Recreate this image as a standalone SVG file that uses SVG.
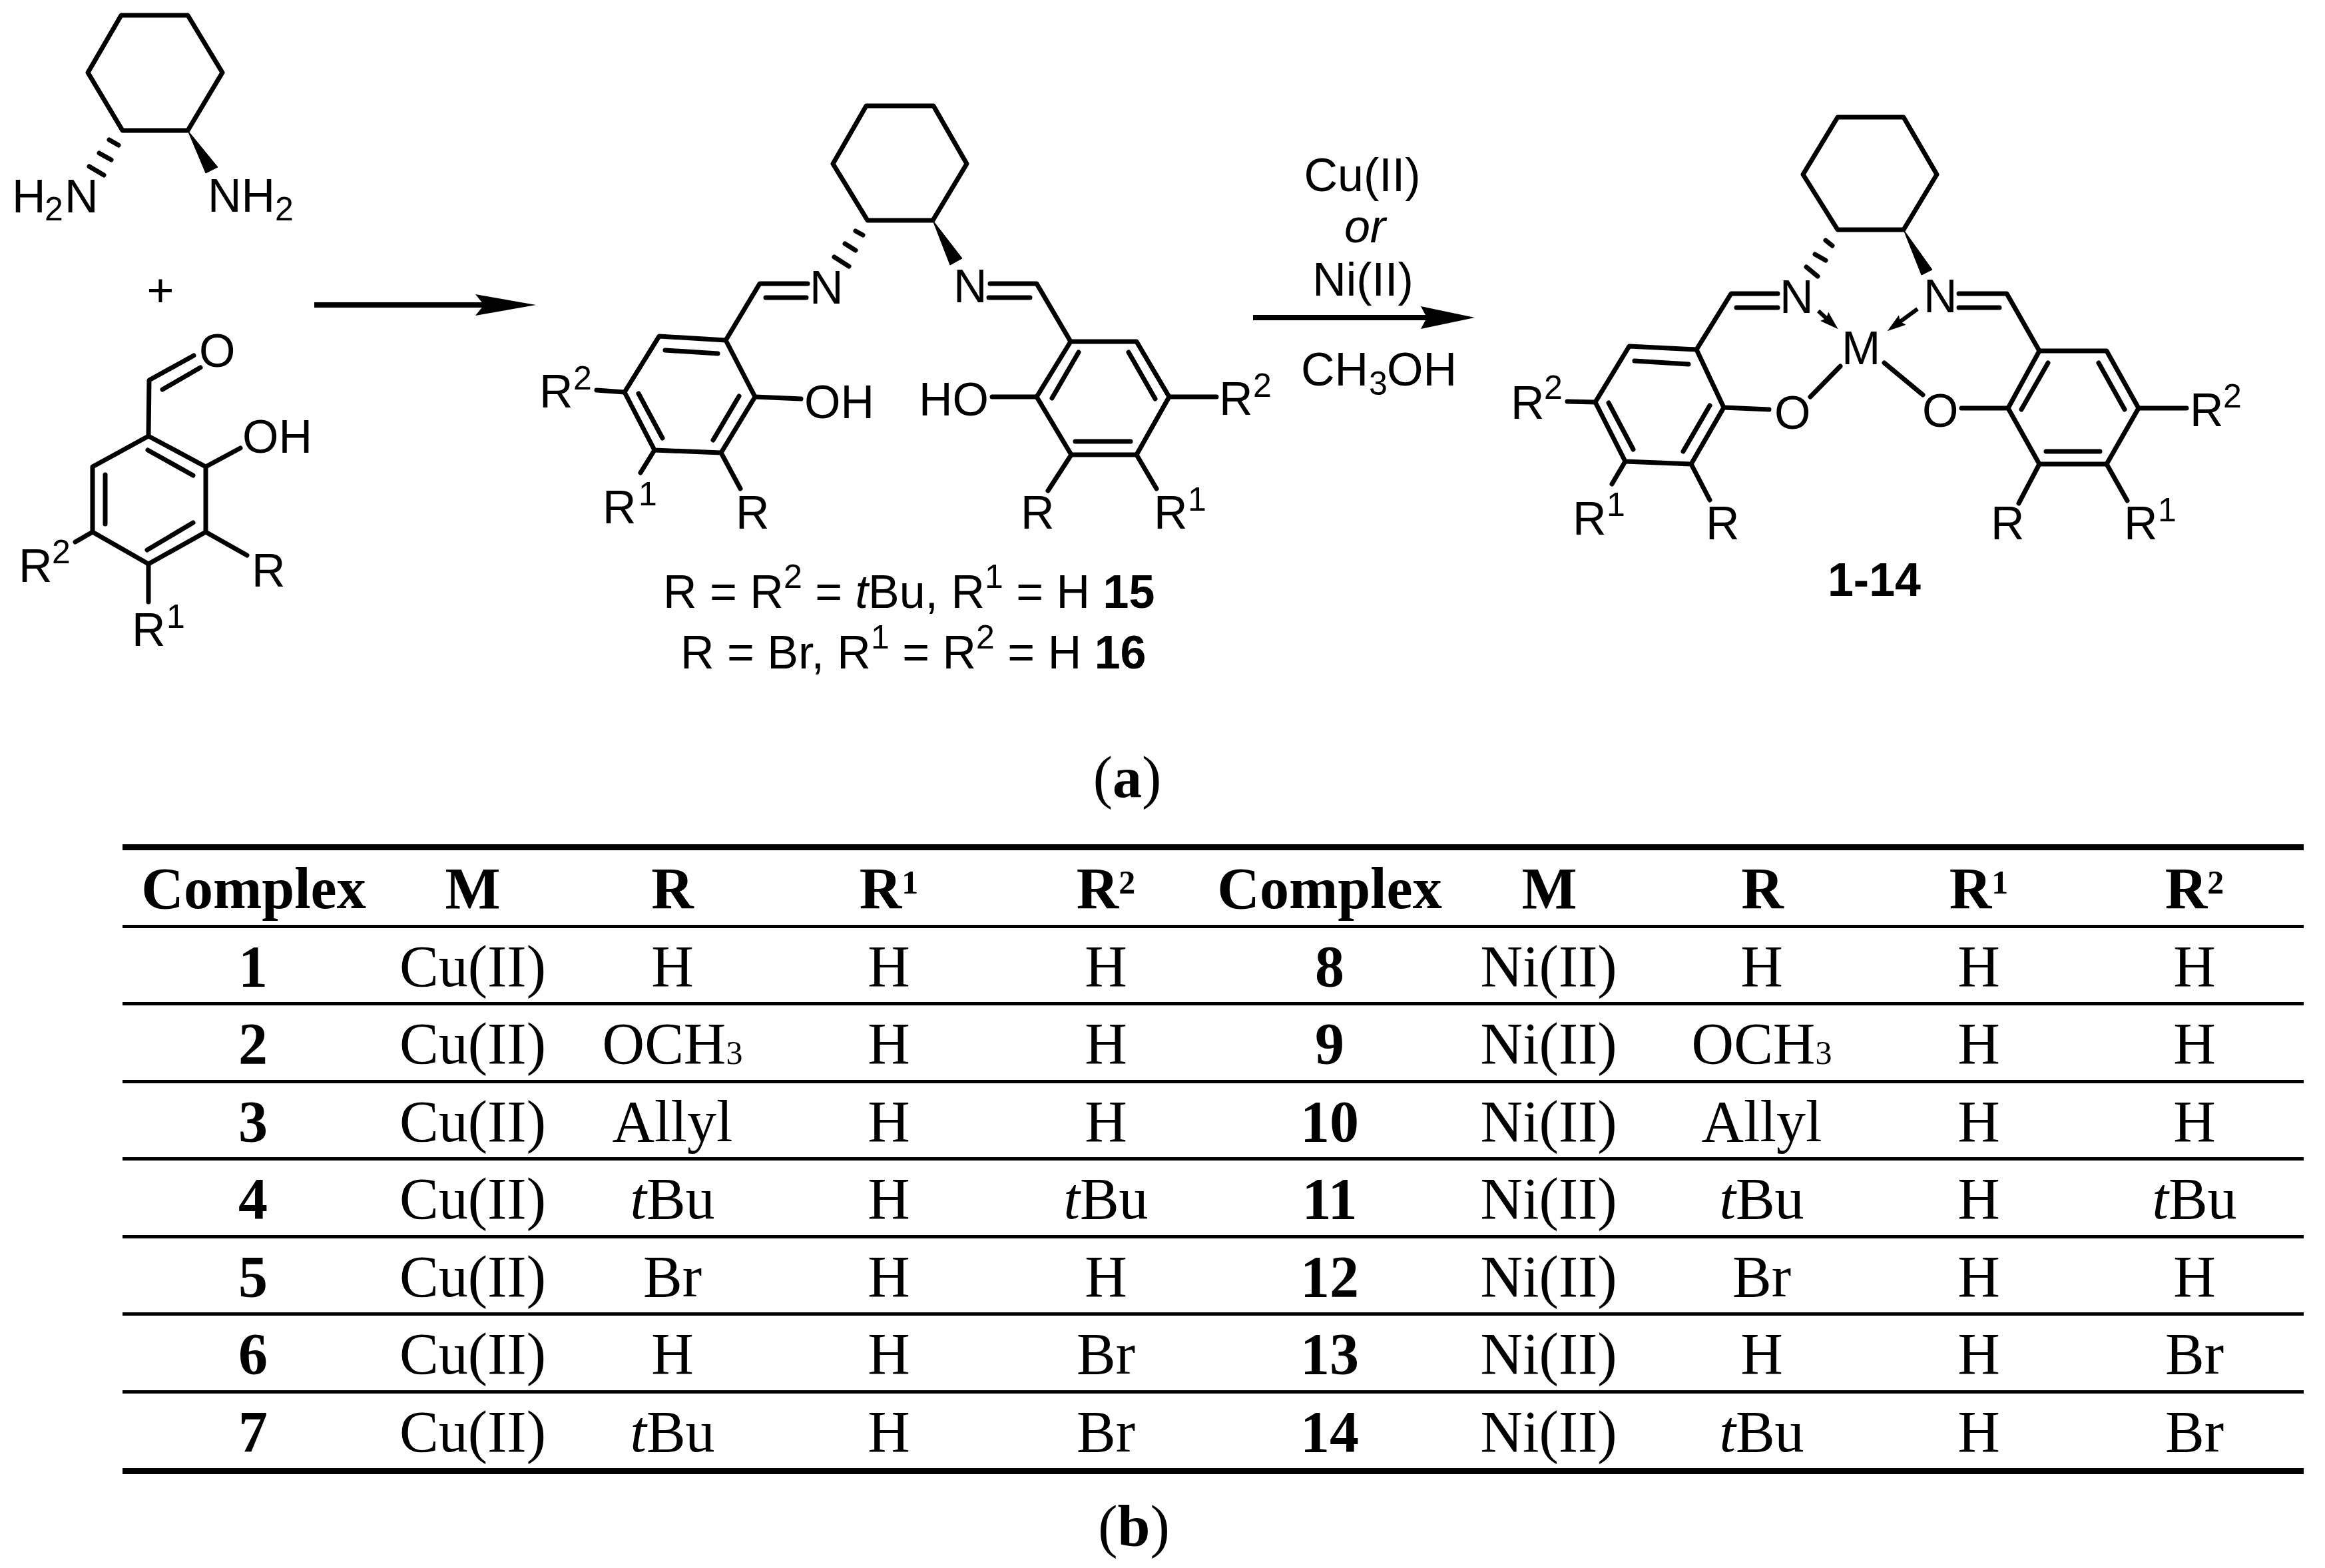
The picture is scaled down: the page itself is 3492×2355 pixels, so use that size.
<svg xmlns="http://www.w3.org/2000/svg" width="3492" height="2355" viewBox="0 0 3492 2355">
<style>
.bg{fill:#fff}
.bond{fill:none;stroke:#000;stroke-width:7;stroke-linecap:round;stroke-linejoin:round}
.wedge{fill:#000;stroke:#000;stroke-width:1}
.arr{fill:none;stroke:#000;stroke-width:8}
.dat{fill:none;stroke:#000;stroke-width:6}
text{fill:#000}
.t{font-family:"Liberation Sans",Arial,sans-serif;font-size:70px}
.s{font-size:50px}
.m{text-anchor:middle}
.bo{font-weight:700}
.i{font-style:italic}
.c{font-family:"Liberation Serif","Times New Roman",serif;font-size:88px;text-anchor:middle}
.h{font-family:"Liberation Serif","Times New Roman",serif;font-size:88px;font-weight:700;text-anchor:middle}
.n{font-family:"Liberation Serif","Times New Roman",serif;font-size:88px;font-weight:700;text-anchor:middle}
.sp{font-size:50px}
.sb{font-size:50px}
.rule{fill:#000}
</style>
<defs>
<marker id="head-a" markerUnits="userSpaceOnUse" viewBox="0 -16 91 32" refX="13" refY="0" markerWidth="91" markerHeight="32" orient="auto"><path d="M0,-16L91,0L0,16L13,0Z" fill="#000"/></marker>
<marker id="head-b" markerUnits="userSpaceOnUse" viewBox="0 -17 81 34" refX="9" refY="0" markerWidth="81" markerHeight="34" orient="auto"><path d="M0,-17L81,0L0,17L9,0Z" fill="#000"/></marker>
<marker id="head-d" markerUnits="userSpaceOnUse" viewBox="0 -9 28 18" refX="4" refY="0" markerWidth="28" markerHeight="18" orient="auto"><path d="M0,-9L28,0L0,9L4,0Z" fill="#000"/></marker>
</defs>
<rect class="bg" width="3492" height="2355"/>

<g id="diamine">
<polygon class="bond" points="182,23 282,23 334,109 282,196 184,196 132,109"/>
<path class="bond" d="M164,210L178,218M149,230L167,240M134,250L156,263"/>
<polygon class="wedge" points="282,196 309,260 327,251"/>
<text class="t" x="18" y="319">H<tspan class="s" x="67" y="331">2</tspan><tspan x="97" y="319">N</tspan></text>
<text class="t" x="312" y="318">NH<tspan class="s" x="413" y="331">2</tspan></text>
</g>

<g id="plus"><text class="t m" x="241" y="460">+</text></g>

<g id="aldehyde">
<polygon class="bond" points="223,655 309,701 309,799 223,847 139,799 139,701"/>
<path class="bond" d="M222,676L290,714M290,785L221,826M158,713L158,787M223,655L224,571L291,534M244,585L301,552M309,701L361,673M309,799L371,834M139,799L113,814M223,847L223,904"/>
<text class="t" x="299" y="551">O</text>
<text class="t" x="364" y="680">OH</text>
<text class="t" x="378" y="881">R</text>
<text class="t" x="28" y="874">R<tspan class="s" x="78" y="846">2</tspan></text>
<text class="t" x="198" y="970">R<tspan class="s" x="250" y="943">1</tspan></text>
</g>

<g id="ligand">
<polygon class="bond" points="1301,159 1402,159 1452,246 1401,331 1303,331 1251,246"/>
<path class="bond" d="M1285,347L1296,353M1269,366L1285,376M1253,386L1275,400"/>
<polygon class="wedge" points="1401,331 1427,398 1445,388"/>
<polygon class="bond" points="1090,511 990,505 938,589 983,676 1083,680 1134,596"/>
<path class="bond" d="M999,526L1078,531M959,591L995,658M1110,595L1071,661M1090,511L1141,426L1213,426M1150,447L1211,447M1134,596L1203,599M938,589L896,586M983,676L962,710M1083,680L1112,734"/>
<polygon class="bond" points="1608,513 1707,513 1756,596 1707,683 1609,683 1557,596"/>
<path class="bond" d="M1620,529L1580,598M1695,529L1735,599M1615,663L1698,663M1608,513L1557,426L1487,426M1485,447L1547,447M1557,596L1490,596M1756,596L1827,596M1609,683L1574,737M1707,683L1737,734"/>
<text class="t" x="1216" y="456">N</text>
<text class="t" x="1432" y="454">N</text>
<text class="t" x="1208" y="628">OH</text>
<text class="t" x="1380" y="624">HO</text>
<text class="t" x="810" y="612">R<tspan class="s" x="861" y="585">2</tspan></text>
<text class="t" x="905" y="786">R<tspan class="s" x="959" y="759">1</tspan></text>
<text class="t" x="1105" y="794">R</text>
<text class="t" x="1533" y="794">R</text>
<text class="t" x="1733" y="794">R<tspan class="s" x="1784" y="767">1</tspan></text>
<text class="t" x="1831" y="623">R<tspan class="s" x="1882" y="596">2</tspan></text>
<text class="t" x="996" y="913">R = R<tspan class="s" dy="-30">2</tspan><tspan dy="30"> = </tspan><tspan class="i">t</tspan>Bu, R<tspan class="s" dy="-30">1</tspan><tspan dy="30"> = H </tspan><tspan class="bo">15</tspan></text>
<text class="t" x="1022" y="1004">R = Br, R<tspan class="s" dy="-30">1</tspan><tspan dy="30"> = R</tspan><tspan class="s" dy="-30">2</tspan><tspan dy="30"> = H </tspan><tspan class="bo">16</tspan></text>
</g>

<g id="reagents">
<text class="t m" x="2046" y="287">Cu(II)</text>
<text class="t m i" x="2050" y="364">or</text>
<text class="t m" x="2047" y="444">Ni(II)</text>
<text class="t" x="1954" y="579">CH<tspan class="s" x="2056" y="593">3</tspan><tspan x="2083" y="579">OH</tspan></text>
</g>

<g id="complex">
<polygon class="bond" points="2760,176 2859,176 2909,262 2859,345 2760,345 2708,262"/>
<path class="bond" d="M2742,361L2752,369M2726,382L2742,391M2713,401L2730,415"/>
<polygon class="wedge" points="2859,345 2886,413 2902,405"/>
<polygon class="bond" points="2548,525 2447,520 2396,604 2441,693 2540,697 2589,612"/>
<path class="bond" d="M2455,542L2536,547M2416,605L2453,675M2568,609L2528,678M2548,525L2600,441L2670,441M2608,462L2670,462M2589,612L2657,615M2719,596L2764,550M2396,604L2354,603M2441,693L2421,727M2540,697L2568,751"/>
<polygon class="bond" points="3063,527 3164,527 3212,613 3164,697 3063,697 3016,613"/>
<path class="bond" d="M3076,545L3036,615M3152,545L3191,615M3073,678L3154,678M3063,527L3014,441L2942,441M2942,462L3003,462M2830,545L2888,593M3016,613L2946,613M3212,613L3284,613M3063,697L3032,756M3164,697L3195,752"/>
<text class="t" x="2673" y="470">N</text>
<text class="t" x="2889" y="469">N</text>
<text class="t" x="2766" y="547">M</text>
<text class="t" x="2665" y="644">O</text>
<text class="t" x="2887" y="641">O</text>
<text class="t" x="2269" y="629">R<tspan class="s" x="2319" y="599">2</tspan></text>
<text class="t" x="2362" y="803">R<tspan class="s" x="2413" y="775">1</tspan></text>
<text class="t" x="2562" y="810">R</text>
<text class="t" x="2990" y="810">R</text>
<text class="t" x="3190" y="810">R<tspan class="s" x="3241" y="783">1</tspan></text>
<text class="t" x="3289" y="640">R<tspan class="s" x="3339" y="612">2</tspan></text>
<text class="t m bo" x="2815" y="895">1-14</text>
</g>

<g id="connectors">
<line class="arr" x1="472" y1="458" x2="727" y2="458" marker-end="url(#head-a)"/>
<line class="arr" x1="1882" y1="477" x2="2143" y2="477" marker-end="url(#head-b)"/>
<line class="dat" x1="2731" y1="467" x2="2743" y2="478" marker-end="url(#head-d)"/>
<line class="dat" x1="2880" y1="464" x2="2854" y2="483" marker-end="url(#head-d)"/>
</g>

<g id="caption-a"><text class="c" x="1693" y="1197" font-size="84">(<tspan class="bo">a</tspan>)</text></g>

<g id="table">
<rect class="rule" x="184" y="1268" width="3276" height="9"/>
<rect class="rule" x="184" y="1389" width="3276" height="5"/>
<rect class="rule" x="184" y="1505" width="3276" height="5"/>
<rect class="rule" x="184" y="1622" width="3276" height="5"/>
<rect class="rule" x="184" y="1738" width="3276" height="5"/>
<rect class="rule" x="184" y="1855" width="3276" height="5"/>
<rect class="rule" x="184" y="1971" width="3276" height="5"/>
<rect class="rule" x="184" y="2088" width="3276" height="5"/>
<rect class="rule" x="184" y="2205" width="3276" height="9"/>

<g id="table-head">
<text class="h" x="381" y="1364">Complex</text>
<text class="h" x="710" y="1364">M</text>
<text class="h" x="1010" y="1364">R</text>
<text class="h" x="1335" y="1364">R<tspan class="sp" dy="-22">1</tspan></text>
<text class="h" x="1661" y="1364">R<tspan class="sp" dy="-22">2</tspan></text>
<text class="h" x="1997" y="1364">Complex</text>
<text class="h" x="2327" y="1364">M</text>
<text class="h" x="2647" y="1364">R</text>
<text class="h" x="2972" y="1364">R<tspan class="sp" dy="-22">1</tspan></text>
<text class="h" x="3296" y="1364">R<tspan class="sp" dy="-22">2</tspan></text>
</g>

<g id="row-1">
<text class="n" x="380" y="1481">1</text><text class="c" x="710" y="1481">Cu(II)</text><text class="c" x="1010" y="1481">H</text><text class="c" x="1335" y="1481">H</text><text class="c" x="1661" y="1481">H</text>
<text class="n" x="1997" y="1481">8</text><text class="c" x="2326" y="1481">Ni(II)</text><text class="c" x="2646" y="1481">H</text><text class="c" x="2972" y="1481">H</text><text class="c" x="3296" y="1481">H</text>
</g>
<g id="row-2">
<text class="n" x="380" y="1597">2</text><text class="c" x="710" y="1597">Cu(II)</text><text class="c" x="1010" y="1597">OCH<tspan class="sb" dy="1">3</tspan></text><text class="c" x="1335" y="1597">H</text><text class="c" x="1661" y="1597">H</text>
<text class="n" x="1997" y="1597">9</text><text class="c" x="2326" y="1597">Ni(II)</text><text class="c" x="2646" y="1597">OCH<tspan class="sb" dy="1">3</tspan></text><text class="c" x="2972" y="1597">H</text><text class="c" x="3296" y="1597">H</text>
</g>
<g id="row-3">
<text class="n" x="380" y="1714">3</text><text class="c" x="710" y="1714">Cu(II)</text><text class="c" x="1010" y="1714">Allyl</text><text class="c" x="1335" y="1714">H</text><text class="c" x="1661" y="1714">H</text>
<text class="n" x="1997" y="1714">10</text><text class="c" x="2326" y="1714">Ni(II)</text><text class="c" x="2646" y="1714">Allyl</text><text class="c" x="2972" y="1714">H</text><text class="c" x="3296" y="1714">H</text>
</g>
<g id="row-4">
<text class="n" x="380" y="1830">4</text><text class="c" x="710" y="1830">Cu(II)</text><text class="c" x="1010" y="1830"><tspan class="i">t</tspan>Bu</text><text class="c" x="1335" y="1830">H</text><text class="c" x="1661" y="1830"><tspan class="i">t</tspan>Bu</text>
<text class="n" x="1997" y="1830">11</text><text class="c" x="2326" y="1830">Ni(II)</text><text class="c" x="2646" y="1830"><tspan class="i">t</tspan>Bu</text><text class="c" x="2972" y="1830">H</text><text class="c" x="3296" y="1830"><tspan class="i">t</tspan>Bu</text>
</g>
<g id="row-5">
<text class="n" x="380" y="1947">5</text><text class="c" x="710" y="1947">Cu(II)</text><text class="c" x="1010" y="1947">Br</text><text class="c" x="1335" y="1947">H</text><text class="c" x="1661" y="1947">H</text>
<text class="n" x="1997" y="1947">12</text><text class="c" x="2326" y="1947">Ni(II)</text><text class="c" x="2646" y="1947">Br</text><text class="c" x="2972" y="1947">H</text><text class="c" x="3296" y="1947">H</text>
</g>
<g id="row-6">
<text class="n" x="380" y="2063">6</text><text class="c" x="710" y="2063">Cu(II)</text><text class="c" x="1010" y="2063">H</text><text class="c" x="1335" y="2063">H</text><text class="c" x="1661" y="2063">Br</text>
<text class="n" x="1997" y="2063">13</text><text class="c" x="2326" y="2063">Ni(II)</text><text class="c" x="2646" y="2063">H</text><text class="c" x="2972" y="2063">H</text><text class="c" x="3296" y="2063">Br</text>
</g>
<g id="row-7">
<text class="n" x="380" y="2180">7</text><text class="c" x="710" y="2180">Cu(II)</text><text class="c" x="1010" y="2180"><tspan class="i">t</tspan>Bu</text><text class="c" x="1335" y="2180">H</text><text class="c" x="1661" y="2180">Br</text>
<text class="n" x="1997" y="2180">14</text><text class="c" x="2326" y="2180">Ni(II)</text><text class="c" x="2646" y="2180"><tspan class="i">t</tspan>Bu</text><text class="c" x="2972" y="2180">H</text><text class="c" x="3296" y="2180">Br</text>
</g>
</g>

<g id="caption-b"><text class="c" x="1703" y="2322" font-size="84">(<tspan class="bo">b</tspan>)</text></g>
</svg>
